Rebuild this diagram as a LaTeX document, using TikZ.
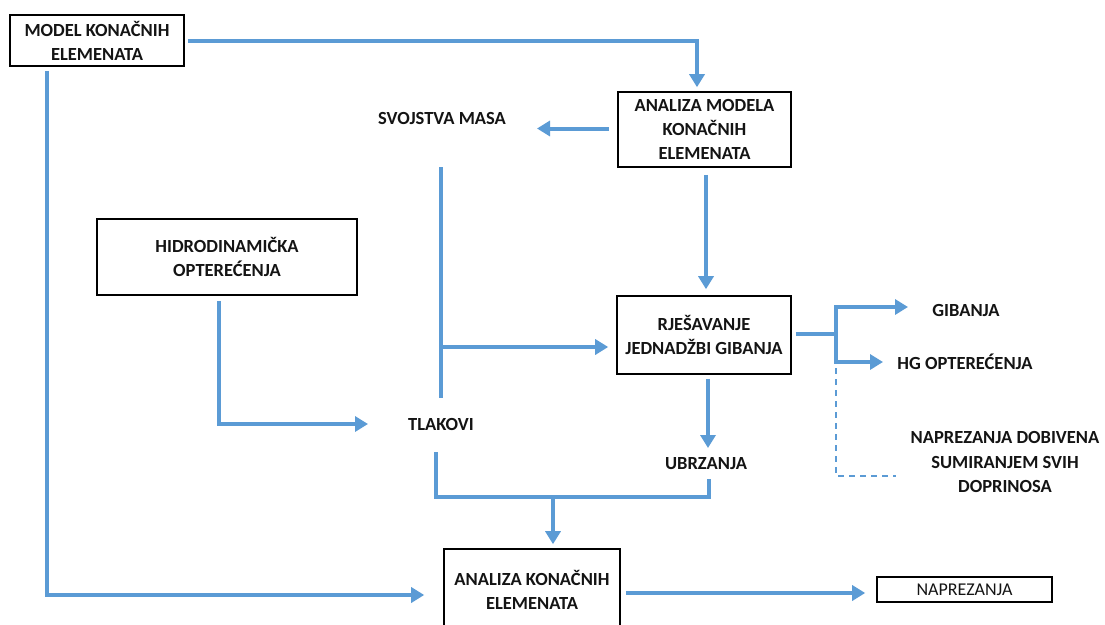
\documentclass[tikz,border=0pt]{standalone}
\usepackage{fontspec}
\setmainfont{Carlito}
\usetikzlibrary{arrows.meta,calc}
\definecolor{lblue}{HTML}{5B9BD5}
\definecolor{txt}{HTML}{141414}
\begin{document}
\begin{tikzpicture}[x=1pt,y=-1pt,
  box/.style={draw=black,line width=1.6pt,align=center,inner sep=0pt,text=txt,
    font=\bfseries\fontsize{18.5}{24}\selectfont},
  lbl/.style={align=center,inner sep=1pt,text=txt,
    font=\bfseries\fontsize{18.5}{24.5}\selectfont},
  conn/.style={draw=lblue,line width=4pt},
  arr/.style={conn,-{Triangle[length=13pt,width=15pt]}},
  dashconn/.style={draw=lblue,line width=1.5pt,dash pattern=on 6pt off 5pt}]
\useasboundingbox (0,0) rectangle (1105,624);
\fill[white] (0,0) rectangle (1105,624);

% boxes
\node[box,minimum width=174pt,minimum height=51pt] (model) at (97,40.5) {MODEL KONAČNIH\\ELEMENATA};
\node[box,minimum width=173pt,minimum height=75pt] (amke) at (704.5,129.5) {ANALIZA MODELA\\KONAČNIH\\ELEMENATA};
\node[box,minimum width=260pt,minimum height=76pt] (hidro) at (227,257) {HIDRODINAMIČKA\\OPTEREĆENJA};
\node[box,minimum width=174pt,minimum height=78pt] (rjes) at (704,335) {RJEŠAVANJE\\JEDNADŽBI GIBANJA};
\node[box,minimum width=176pt,minimum height=82pt] (ake) at (532,590) {ANALIZA KONAČNIH\\ELEMENATA};
\node[box,minimum width=175pt,minimum height=25pt,font=\fontsize{18}{20}\selectfont] (napr) at (964.5,589.5) {NAPREZANJA};

% labels
\node[lbl] (svojstva) at (442,118) {SVOJSTVA MASA};
\node[lbl] (tlakovi) at (441,424) {TLAKOVI};
\node[lbl] (ubrzanja) at (706,464) {UBRZANJA};
\node[lbl] (gibanja) at (966,310) {GIBANJA};
\node[lbl] (hg) at (965,362) {HG OPTEREĆENJA};
\node[lbl] (dob) at (1005,462) {NAPREZANJA DOBIVENA\\SUMIRANJEM SVIH\\DOPRINOSA};

% named junctions
\coordinate (bj) at (553,497);
\coordinate (vb) at (443,347);
\coordinate (br) at (836,334);
\coordinate (dstart) at (836,368);

% connectors
\draw[arr] ([xshift=3pt]model.east) -| ([xshift=-7.5pt,yshift=4pt]amke.north);
\draw[arr] ([xshift=-50pt,yshift=-4pt]model.south) |- ([xshift=-19pt,yshift=-5pt]ake.west);
\draw[arr] ([xshift=-8pt,yshift=1pt]amke.west) -- ([xshift=95pt,yshift=-10.5pt]svojstva.center);
\draw[arr] ([xshift=1.5pt,yshift=-7pt]amke.south) -- ([xshift=2pt,yshift=6pt]rjes.north);
\draw[conn] ([xshift=-1pt,yshift=-49pt]svojstva.center) -- ([yshift=26pt]tlakovi.center);
\draw[arr] (vb) -- ([xshift=-8pt,yshift=-12pt]rjes.west);
\draw[arr] ([xshift=-8pt,yshift=-5pt]hidro.south) |- ([xshift=-73pt]tlakovi.center);
\draw[arr] ([xshift=4pt,yshift=-4pt]rjes.south) -- ([xshift=2pt,yshift=16pt]ubrzanja.center);
\draw[conn] ([xshift=-5pt,yshift=-28pt]tlakovi.center) |- (bj) -| ([xshift=3pt,yshift=-15pt]ubrzanja.center);
\draw[arr] (bj) -- ([xshift=21pt,yshift=4pt]ake.north);
\draw[conn] ([xshift=4pt,yshift=1pt]rjes.east) -- (br);
\draw[arr] (br) |- ([xshift=-58pt,yshift=3pt]gibanja.center);
\draw[arr] (br) |- ([xshift=-82pt]hg.center);
\draw[dashconn] (dstart) |- ([xshift=-109pt,yshift=-14pt]dob.center);
\draw[arr] ([xshift=5pt,yshift=-3pt]ake.east) -- ([xshift=-11pt,yshift=-3.5pt]napr.west);
\end{tikzpicture}
\end{document}
